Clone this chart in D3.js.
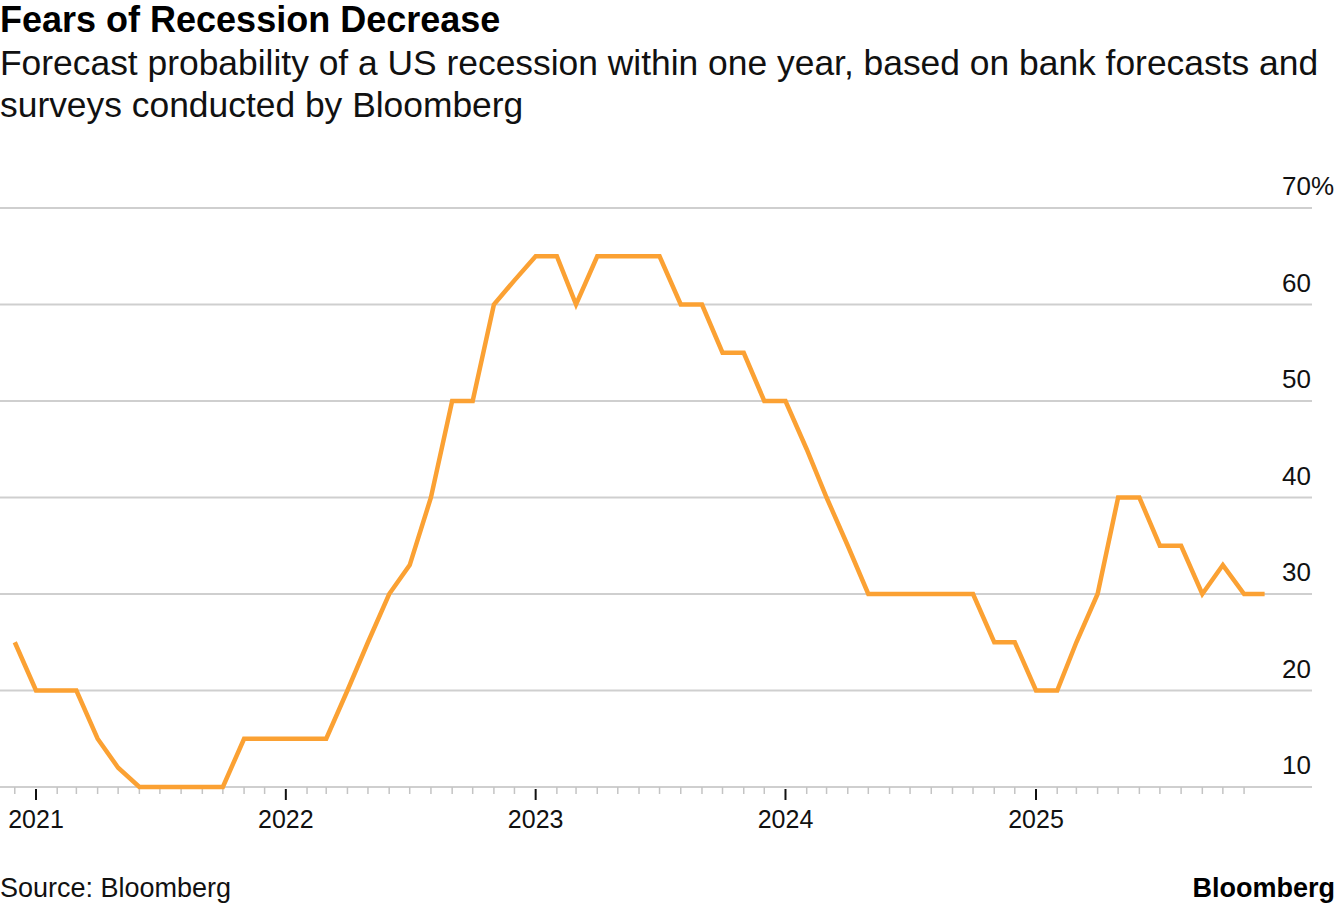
<!DOCTYPE html>
<html>
<head>
<meta charset="utf-8">
<script src="https://cdn.jsdelivr.net/npm/d3@7"></script>
<style>
  body { margin: 0; background: #fff; }
  svg { display: block; font-family: "Liberation Sans", Arial, sans-serif; }
</style>
</head>
<body>
<svg id="chart" width="1337" height="906"></svg>
<script>
// monthly readings, Dec 2020 - Dec 2025
const months = [
  "2020-12",
  "2021-01","2021-02","2021-03","2021-04","2021-05","2021-06","2021-07","2021-08","2021-09","2021-10","2021-11","2021-12",
  "2022-01","2022-02","2022-03","2022-04","2022-05","2022-06","2022-07","2022-08","2022-09","2022-10","2022-11","2022-12",
  "2023-01","2023-02","2023-03","2023-04","2023-05","2023-06","2023-07","2023-08","2023-09","2023-10","2023-11","2023-12",
  "2024-01","2024-02","2024-03","2024-04","2024-05","2024-06","2024-07","2024-08","2024-09","2024-10","2024-11","2024-12",
  "2025-01","2025-02","2025-03","2025-04","2025-05","2025-06","2025-07","2025-08","2025-09","2025-10","2025-11","2025-12"
];
const probability = [
  25,
  20, 20, 20, 15, 12, 10, 10, 10, 10, 10, 15, 15,
  15, 15, 15, 20, 25, 30, 33, 40, 50, 50, 60, 62.5,
  65, 65, 60, 65, 65, 65, 65, 60, 60, 55, 55, 50,
  50, 45, 40, 35, 30, 30, 30, 30, 30, 30, 25, 25,
  20, 20, 25, 30, 40, 40, 35, 35, 30, 33, 30, 30
];
const yTicks = [10, 20, 30, 40, 50, 60, 70];
const yearTicks = ["2021", "2022", "2023", "2024", "2025"];

const title = "Fears of Recession Decrease";
const subtitle = [
  "Forecast probability of a US recession within one year, based on bank forecasts and",
  "surveys conducted by Bloomberg"
];
const source = "Source: Bloomberg";

const parseMonth = d3.utcParse("%Y-%m");
const data = months.map((m, i) => ({ date: parseMonth(m), value: probability[i] }));

const svg = d3.select("#chart");

const x = d3.scaleUtc()
  .domain([new Date(Date.UTC(2021, 0, 1)), new Date(Date.UTC(2025, 0, 1))])
  .range([36, 1036]);
const y = d3.scaleLinear().domain([10, 70]).range([787, 208]);

// header
svg.append("text")
  .attr("x", 0).attr("y", 32)
  .style("font-size", "36px").style("font-weight", "bold")
  .text(title);
svg.selectAll(".sub")
  .data(subtitle)
  .join("text")
  .attr("class", "sub")
  .attr("x", 0)
  .attr("y", (d, i) => 75 + i * 42)
  .style("font-size", "35.4px")
  .attr("fill", "#111")
  .text(d => d);

// gridlines
svg.append("g")
  .selectAll("line")
  .data(yTicks)
  .join("line")
  .attr("x1", 0).attr("x2", 1312)
  .attr("y1", d => y(d)).attr("y2", d => y(d))
  .attr("stroke", "#cfcfcf")
  .attr("stroke-width", 2);

// y labels, number right aligned, % hangs out
const yl = svg.append("g").style("font-size", "26px").attr("fill", "#111");
yl.selectAll("text.num")
  .data(yTicks)
  .join("text")
  .attr("class", "num")
  .attr("x", 1311)
  .attr("y", d => y(d) - 13)
  .attr("text-anchor", "end")
  .text(d => d);
yl.append("text")
  .attr("x", 1311)
  .attr("y", y(70) - 13)
  .text("%");

// month ticks
const monthTicks = d3.utcMonth.range(parseMonth("2020-12"), parseMonth("2025-12"))
  .filter(d => d.getUTCMonth() !== 0);
svg.append("g")
  .selectAll("line")
  .data(monthTicks)
  .join("line")
  .attr("x1", d => x(d)).attr("x2", d => x(d))
  .attr("y1", y(10)).attr("y2", y(10) + 7)
  .attr("stroke", "#c4c4c4")
  .attr("stroke-width", 1.5);

const years = yearTicks.map(d => d3.utcParse("%Y")(d));
const xg = svg.append("g");
xg.selectAll("line")
  .data(years)
  .join("line")
  .attr("x1", d => x(d)).attr("x2", d => x(d))
  .attr("y1", y(10) + 2).attr("y2", y(10) + 13)
  .attr("stroke", "#111")
  .attr("stroke-width", 2);
xg.selectAll("text")
  .data(years)
  .join("text")
  .attr("x", d => x(d))
  .attr("y", 828)
  .attr("text-anchor", "middle")
  .style("font-size", "25px")
  .attr("fill", "#111")
  .text(d3.utcFormat("%Y"));

// the line
const line = d3.line()
  .x(d => x(d.date))
  .y(d => y(d.value));
svg.append("path")
  .datum(data)
  .attr("d", line)
  .attr("fill", "none")
  .attr("stroke", "#fba133")
  .attr("stroke-width", 4.5)
  .attr("stroke-linejoin", "miter");

// footer
svg.append("text")
  .attr("x", 0).attr("y", 897)
  .style("font-size", "27px")
  .attr("fill", "#111")
  .text(source);
svg.append("text")
  .attr("x", 1335).attr("y", 897)
  .attr("text-anchor", "end")
  .style("font-size", "27px").style("font-weight", "bold")
  .text("Bloomberg");
</script>
</body>
</html>
